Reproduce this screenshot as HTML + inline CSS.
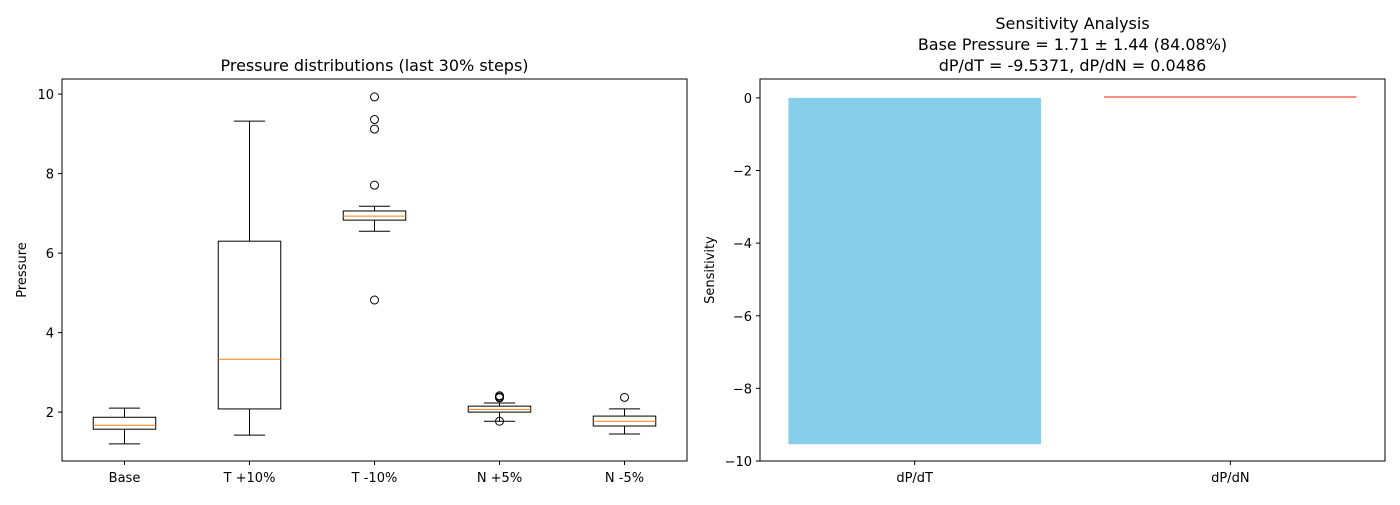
<!DOCTYPE html>
<html><head><meta charset="utf-8"><style>
body{margin:0;background:#fff;font-family:"Liberation Sans","DejaVu Sans",sans-serif;}
svg text{font-family:"DejaVu Sans","Liberation Sans",sans-serif;}
</style></head><body>
<svg id="c" width="1400" height="500" xmlns="http://www.w3.org/2000/svg"></svg>
<script>
const categories=["Base","T +10%","T -10%","N +5%","N -5%"];
const whiskLow=[1.2,1.42,6.55,1.77,1.45];
const whiskHigh=[2.1,9.32,7.18,2.23,2.08];
const q1=[1.57,2.08,6.83,2.0,1.65];
const q3=[1.87,6.30,7.06,2.15,1.9];
const medians=[1.67,3.33,6.93,2.07,1.77];
const outliers=[[],[],[9.93,9.36,9.12,7.71,4.82],[1.77,2.36,2.38,2.41],[2.37]];
const leftTicks=[2,4,6,8,10];
const sensLabels=["dP/dT","dP/dN"];
const sensValues=[-9.5371,0.0486];
const sensColors=["#87ceeb","#fa8072"];
const rightTicks=[0,-2,-4,-6,-8,-10];

const NS="http://www.w3.org/2000/svg";
const svg=document.getElementById('c');
function mk(tag,attrs,name,parent){const e=document.createElementNS(NS,tag);for(const k in attrs)e.setAttribute(k,attrs[k]);


(parent||svg).appendChild(e);return e;}
function txt(x,y,s,name,opts){const t=mk('text',Object.assign({x:x,y:y,'font-size':13,fill:'#000','text-anchor':'middle'},opts||{}),name);t.textContent=s;return t;}

// Left axes
const L={x0:62,x1:687,y0:79,y1:461,min:0.77,max:10.38};
const ly=v=>L.y1-(v-L.min)/(L.max-L.min)*(L.y1-L.y0);
const lx=i=>L.x0+(i+0.5)*(L.x1-L.x0)/categories.length;
const bw=(L.x1-L.x0)/categories.length*0.5;
categories.forEach((c,i)=>{
  const g=mk('g',{},'box-'+c.replace(/[^a-zA-Z0-9]+/g,'-').toLowerCase());
  const cx=lx(i);
  mk('line',{x1:cx,x2:cx,y1:ly(whiskLow[i]),y2:ly(q1[i]),stroke:'#000'},'whisker-low',g);
  mk('line',{x1:cx,x2:cx,y1:ly(q3[i]),y2:ly(whiskHigh[i]),stroke:'#000'},'whisker-high',g);
  mk('line',{x1:cx-bw/4,x2:cx+bw/4,y1:ly(whiskLow[i]),y2:ly(whiskLow[i]),stroke:'#000'},'cap-low',g);
  mk('line',{x1:cx-bw/4,x2:cx+bw/4,y1:ly(whiskHigh[i]),y2:ly(whiskHigh[i]),stroke:'#000'},'cap-high',g);
  mk('rect',{x:cx-bw/2,y:ly(q3[i]),width:bw,height:ly(q1[i])-ly(q3[i]),fill:'none',stroke:'#000'},'iqr-box',g);
  mk('line',{x1:cx-bw/2,x2:cx+bw/2,y1:ly(medians[i]),y2:ly(medians[i]),stroke:'#ff7f0e'},'median-line',g);
  outliers[i].forEach(v=>mk('circle',{cx:cx,cy:ly(v),r:4,fill:'none',stroke:'#000'},'outlier',g));
  mk('line',{x1:cx,x2:cx,y1:L.y1,y2:L.y1+4,stroke:'#000'},'x-tick');
  txt(cx,L.y1+21,c,'x-tick-label');
});
leftTicks.forEach(v=>{mk('line',{x1:L.x0-4,x2:L.x0,y1:ly(v),y2:ly(v),stroke:'#000'},'y-tick');
  txt(L.x0-8,ly(v)+5,String(v),'y-tick-label',{'text-anchor':'end'});});
mk('rect',{x:L.x0,y:L.y0,width:L.x1-L.x0,height:L.y1-L.y0,fill:'none',stroke:'#000'},'left-plot-frame');
txt((L.x0+L.x1)/2,L.y0-8,'Pressure distributions (last 30% steps)','left-chart-title',{'font-size':16});
txt(26,(L.y0+L.y1)/2,'Pressure','left-y-axis-title',{transform:`rotate(-90 26 ${(L.y0+L.y1)/2})`});

// Right axes
const R={x0:760,x1:1385,y0:79,y1:461,min:-10,max:0.52,xmin:-0.49,xmax:1.49};
const ry=v=>R.y1-(v-R.min)/(R.max-R.min)*(R.y1-R.y0);
const rx=i=>R.x0+(i-R.xmin)/(R.xmax-R.xmin)*(R.x1-R.x0);
const rbw=(rx(1)-rx(0))*0.8;
sensLabels.forEach((c,i)=>{
  const v=sensValues[i],y0=ry(0),y1=ry(v);
  mk('rect',{x:rx(i)-rbw/2,y:Math.min(y0,y1),width:rbw,height:Math.max(Math.abs(y1-y0),1),fill:sensColors[i]},'bar-'+c.replace('/','-').toLowerCase());
  mk('line',{x1:rx(i),x2:rx(i),y1:R.y1,y2:R.y1+4,stroke:'#000'},'x-tick');
  txt(rx(i),R.y1+21,c,'x-tick-label');
});
rightTicks.forEach(v=>{mk('line',{x1:R.x0-4,x2:R.x0,y1:ry(v),y2:ry(v),stroke:'#000'},'y-tick');
  txt(R.x0-8,ry(v)+5,(v<0?'\u2212'+(-v):String(v)),'y-tick-label',{'text-anchor':'end'});});
mk('rect',{x:R.x0,y:R.y0,width:R.x1-R.x0,height:R.y1-R.y0,fill:'none',stroke:'#000'},'right-plot-frame');
const cxr=(R.x0+R.x1)/2;
txt(cxr,29,'Sensitivity Analysis','right-chart-title',{'font-size':16});
txt(cxr,50,'Base Pressure = 1.71 \u00b1 1.44 (84.08%)','right-chart-subtitle',{'font-size':16});
txt(cxr,71,'dP/dT = -9.5371, dP/dN = 0.0486','right-chart-subtitle-2',{'font-size':16});
txt(714,(R.y0+R.y1)/2,'Sensitivity','right-y-axis-title',{transform:`rotate(-90 714 ${(R.y0+R.y1)/2})`});
</script>
</body></html>
